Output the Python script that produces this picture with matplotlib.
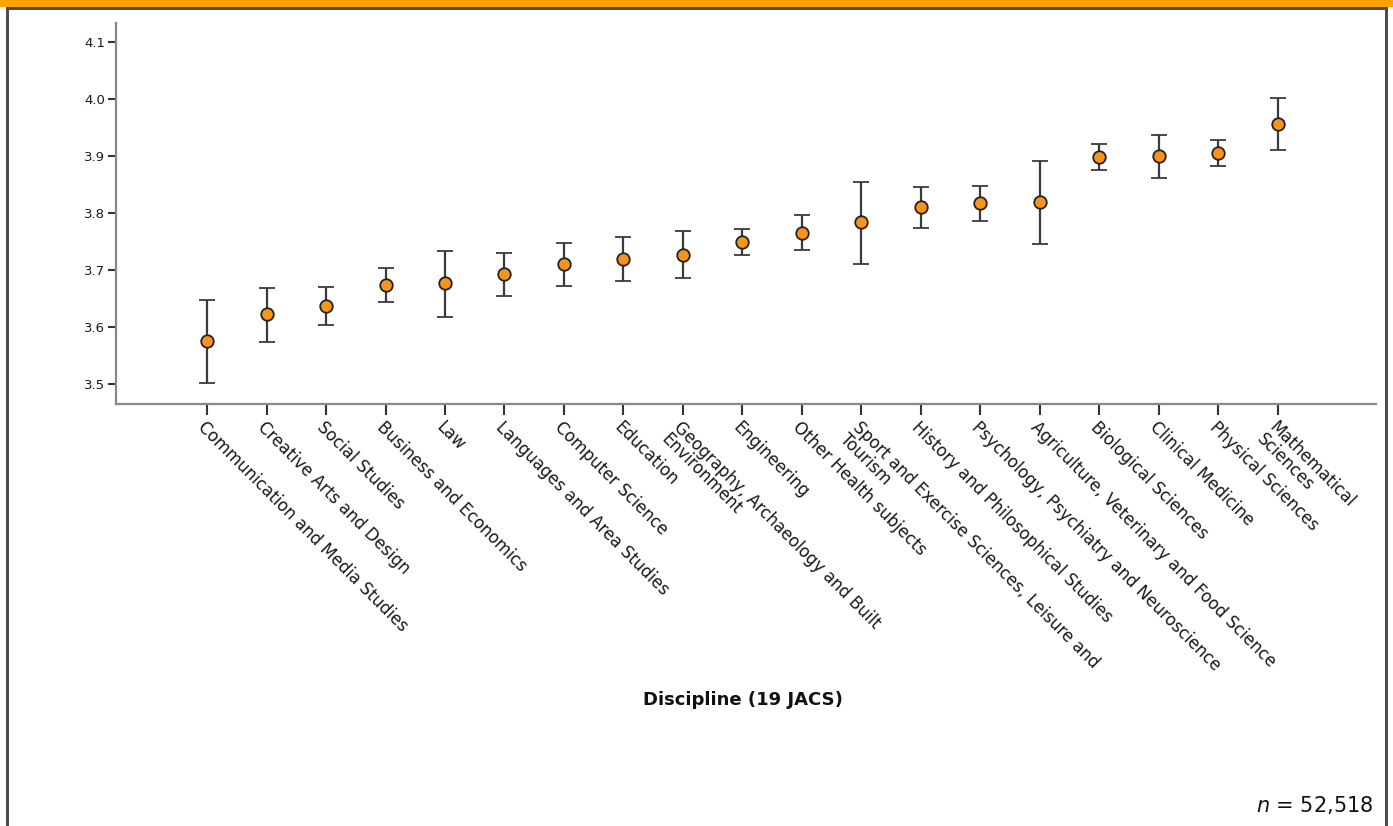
import matplotlib
matplotlib.use("Agg")
import matplotlib.pyplot as plt
from matplotlib.patches import Rectangle

# Mean score per discipline with 95% CI bounds
disciplines = [
    "Communication and Media Studies",
    "Creative Arts and Design",
    "Social Studies",
    "Business and Economics",
    "Law",
    "Languages and Area Studies",
    "Computer Science",
    "Education",
    "Geography, Archaeology and Built\nEnvironment",
    "Engineering",
    "Other Health subjects",
    "Sport and Exercise Sciences, Leisure and\nTourism",
    "History and Philosophical Studies",
    "Psychology, Psychiatry and Neuroscience",
    "Agriculture, Veterinary and Food Science",
    "Biological Sciences",
    "Clinical Medicine",
    "Physical Sciences",
    "Mathematical\nSciences",
]
means = [3.575, 3.623, 3.637, 3.674, 3.677, 3.693, 3.711, 3.719, 3.727, 3.749,
         3.765, 3.784, 3.811, 3.818, 3.819, 3.898, 3.899, 3.905, 3.956]
ci_upper = [3.647, 3.668, 3.670, 3.704, 3.733, 3.729, 3.747, 3.758, 3.768, 3.771,
            3.796, 3.854, 3.846, 3.847, 3.891, 3.921, 3.937, 3.927, 4.001]
ci_lower = [3.502, 3.574, 3.603, 3.644, 3.618, 3.655, 3.672, 3.680, 3.686, 3.727,
            3.735, 3.711, 3.774, 3.786, 3.746, 3.875, 3.861, 3.882, 3.910]
y_ticks = [3.5, 3.6, 3.7, 3.8, 3.9, 4.0, 4.1]

fig = plt.figure(figsize=(13.93, 8.26), dpi=100)
ax = fig.add_axes([0.0833, 0.5109, 0.9045, 0.4613])

x = list(range(len(disciplines)))
err_low = [m - lo for m, lo in zip(means, ci_lower)]
err_high = [hi - m for m, hi in zip(means, ci_upper)]

ax.errorbar(x, means, yerr=[err_low, err_high], fmt="o", color="#333333",
            ecolor="#3a3a3a", elinewidth=1.6, capsize=6, capthick=1.6,
            markersize=9, markerfacecolor="#f7941d", markeredgecolor="#222222",
            markeredgewidth=1.3, zorder=3)

ax.set_xlim(-1.53, 19.65)
ax.set_ylim(3.465, 4.133)
ax.set_yticks(y_ticks)
ax.set_yticklabels([f"{v:.1f}" for v in y_ticks], fontsize=9.5, color="#1a1a2e")
ax.set_xticks(x)
ax.set_xticklabels(disciplines, rotation=-45, ha="left", va="top",
                   rotation_mode="anchor", fontsize=12, color="#1a1a1a",
                   linespacing=0.95)

for side in ["top", "right"]:
    ax.spines[side].set_visible(False)
for side in ["left", "bottom"]:
    ax.spines[side].set_color("#888888")
    ax.spines[side].set_linewidth(1.6)
ax.tick_params(axis="y", length=6, width=1.5, color="#333333", pad=2)
ax.tick_params(axis="x", length=8, width=1.5, color="#333333", pad=2)

fig.text(0.5335, 0.152, "Discipline (19 JACS)", ha="center", va="center",
         fontsize=13, fontweight="bold", color="#111111")
fig.text(0.986, 0.025, r"$n$ = 52,518", ha="right", va="center",
         fontsize=15, color="#111111")

# Frame: orange header bar and dark side borders
fig.patches.append(Rectangle((0, 1 - 7 / 826), 1, 7 / 826, transform=fig.transFigure,
                             facecolor="#ffa200", edgecolor="none", zorder=5))
fig.patches.append(Rectangle((0.0043, 1 - 10 / 826), 0.9917, 3 / 826,
                             transform=fig.transFigure, facecolor="#4d4d4d",
                             edgecolor="none", zorder=5))
fig.patches.append(Rectangle((6 / 1393, 0), 3 / 1393, 1 - 7 / 826,
                             transform=fig.transFigure, facecolor="#4d4d4d",
                             edgecolor="none", zorder=5))
fig.patches.append(Rectangle((1385 / 1393, 0), 3 / 1393, 1 - 7 / 826,
                             transform=fig.transFigure, facecolor="#4d4d4d",
                             edgecolor="none", zorder=5))

fig.savefig("out.png", dpi=100)
